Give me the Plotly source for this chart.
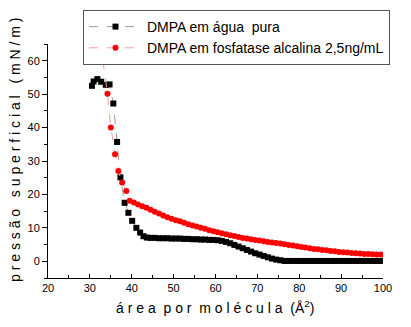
import plotly.graph_objects as go

# DMPA em água pura (black squares)
area_agua = [30.5, 30.9, 31.8, 32.7, 33.8, 34.7, 35.6, 36.5, 37.3, 38.3, 39.2, 40.1, 41.1, 42.0, 42.8,
             43.6, 44.5, 45.5, 46.5, 47.5, 48.5, 49.5, 50.5, 51.5, 52.5, 53.5, 54.5, 55.5, 56.5, 57.5,
             58.5, 59.5, 60.5, 61.5, 62.5, 63.5, 64.5, 65.5, 66.5, 67.5, 68.5, 69.5, 70.5, 71.5, 72.5,
             73.5, 74.5, 75.5, 76.5, 77.5, 78.5, 79.5, 80.5, 81.5, 82.5, 83.5, 84.5, 85.5, 86.5, 87.5,
             88.5, 89.5, 90.5, 91.5, 92.5, 93.5, 94.5, 95.5, 96.5, 97.5, 98.5, 99.5]
pi_agua = [52.5, 53.8, 54.5, 53.7, 52.8, 52.9, 47.2, 35.7, 25.1, 17.5, 14.5, 12.1, 10.0, 8.6, 7.5,
           7.1, 7.0, 7.0, 6.9, 6.9, 6.9, 6.8, 6.8, 6.8, 6.7, 6.7, 6.6, 6.6, 6.5, 6.5,
           6.4, 6.4, 6.3, 6.1, 5.8, 5.4, 4.9, 4.4, 3.9, 3.4, 2.9, 2.4, 2.0, 1.6, 1.2,
           0.8, 0.5, 0.3, 0.1, 0.1, 0.1, 0.1, 0.1, 0.1, 0.1, 0.1, 0.1, 0.1, 0.1, 0.1,
           0.1, 0.1, 0.1, 0.1, 0.1, 0.1, 0.1, 0.1, 0.1, 0.1, 0.1, 0.1]

# DMPA em fosfatase alcalina 2,5ng/mL (red circles)
area_fosf = [33.1, 34.2, 35.0, 36.0, 36.8, 37.7, 38.7, 39.5,
             40.5, 41.5, 42.5, 43.5, 44.5, 45.5, 46.5, 47.5, 48.5, 49.5, 50.5, 51.5, 52.5, 53.5,
             54.5, 55.5, 56.5, 57.5, 58.5, 59.5, 60.5, 61.5, 62.5, 63.5, 64.5, 65.5, 66.5, 67.5,
             68.5, 69.5, 70.5, 71.5, 72.5, 73.5, 74.5, 75.5, 76.5, 77.5, 78.5, 79.5, 80.5, 81.5,
             82.5, 83.5, 84.5, 85.5, 86.5, 87.5, 88.5, 89.5, 90.5, 91.5, 92.5, 93.5, 94.5, 95.5,
             96.5, 97.5, 98.5, 99.5]
pi_fosf = [60.1, 50.1, 40.0, 32.0, 27.0, 23.6, 21.0, 18.1,
           17.6, 17.0, 16.5, 16.0, 15.4, 14.8, 14.3, 13.7, 13.2, 12.7, 12.3, 12.0, 11.5, 11.1,
           10.7, 10.4, 10.0, 9.7, 9.3, 9.0, 8.7, 8.4, 8.1, 7.8, 7.6, 7.3, 7.0, 6.8,
           6.6, 6.4, 6.2, 6.0, 5.8, 5.6, 5.5, 5.3, 5.1, 4.9, 4.7, 4.5, 4.3, 4.1,
           3.9, 3.7, 3.6, 3.4, 3.3, 3.1, 3.0, 2.8, 2.7, 2.6, 2.5, 2.4, 2.3, 2.2,
           2.2, 2.1, 2.0, 2.0]

x_ticks = [20, 30, 40, 50, 60, 70, 80, 90, 100]
y_ticks = [0, 10, 20, 30, 40, 50, 60]

FONT = "Liberation Sans, Arial, sans-serif"

# page body has an 8px margin; figure sized/placed to fit the 411x327 window
fig = go.Figure()
fig.add_trace(go.Scatter(
    x=area_agua, y=pi_agua, mode="lines+markers",
    name="DMPA em água  pura",
    line=dict(color="#9a9a9a", width=1, dash="dash"),
    marker=dict(symbol="square", size=6, color="black"),
))
fig.add_trace(go.Scatter(
    x=area_fosf, y=pi_fosf, mode="lines+markers",
    name="DMPA em fosfatase alcalina 2,5ng/mL",
    line=dict(color="#ff9a9a", width=1, dash="dash"),
    marker=dict(symbol="circle", size=6, color="#ff0000"),
))

fig.update_layout(
    width=403, height=319,
    margin=dict(l=40, r=28, t=36, b=49, autoexpand=False),
    paper_bgcolor="white", plot_bgcolor="white",
    font=dict(family=FONT, color="black", size=11),
    showlegend=True,
    legend=dict(
        x=(83 - 48) / 335, y=(278 - 10) / 234, xanchor="left", yanchor="top",
        bordercolor="#555555", borderwidth=1, bgcolor="white",
        font=dict(family=FONT, size=14, color="black"),
        tracegroupgap=0, itemwidth=53,
    ),
    xaxis=dict(
        range=[20, 100], tickvals=x_ticks, ticktext=[str(v) for v in x_ticks],
        showline=True, linecolor="black", linewidth=1, mirror=False,
        showgrid=False, zeroline=False, automargin=False,
        ticks="inside", ticklen=4, tickcolor="black",
        minor=dict(dtick=5, ticks="inside", ticklen=3, tickcolor="black"),
        tickfont=dict(size=11, family=FONT),
    ),
    yaxis=dict(
        range=[-5, 65], tickvals=y_ticks, ticktext=[str(v) for v in y_ticks],
        showline=True, linecolor="black", linewidth=1, mirror=False,
        showgrid=False, zeroline=False, automargin=False,
        ticks="outside", ticklen=5, tickcolor="black",
        minor=dict(dtick=5, tick0=0, ticks="outside", ticklen=3, tickcolor="black"),
        tickfont=dict(size=11, family=FONT),
    ),
    annotations=[
        dict(text="p r e s s ã o   s u p e r f i c i a l   ( m N / m )",
             xref="paper", yref="paper", x=(15 - 48) / 335, y=0.547,
             xanchor="center", yanchor="middle", textangle=-90, showarrow=False,
             font=dict(family=FONT, size=14, color="black")),
        dict(text="á r e a  p o r  m o l é c u l a  (Å<sup>2</sup>)",
             xref="paper", yref="paper", x=(215 - 48) / 335, y=-0.124,
             xanchor="center", yanchor="middle", showarrow=False,
             font=dict(family=FONT, size=14, color="black")),
    ],
)

fig.write_html("out.html")
